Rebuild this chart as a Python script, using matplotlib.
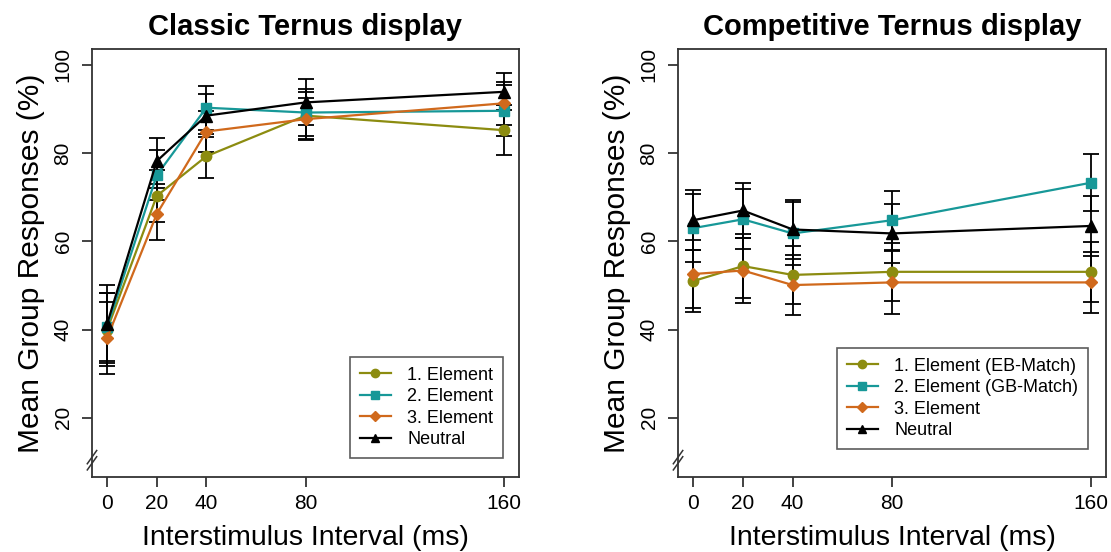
import matplotlib
matplotlib.use("Agg")
import matplotlib.pyplot as plt

plt.rcParams['font.family'] = ['Liberation Sans', 'DejaVu Sans']

isi = [0, 20, 40, 80, 160]
x_ticks = [0, 20, 40, 80, 160]
y_ticks = [20, 40, 60, 80, 100]

# Classic Ternus display
classic_el1 = [40.0, 70.3, 79.3, 88.5, 85.2]
classic_el1_err = [8.2, 5.8, 5.0, 5.3, 5.7]
classic_el2 = [40.6, 75.0, 90.3, 89.2, 89.6]
classic_el2_err = [7.8, 5.7, 5.0, 5.3, 5.8]
classic_el3 = [38.1, 66.2, 84.9, 87.7, 91.3]
classic_el3_err = [8.2, 6.0, 4.7, 4.7, 4.9]
classic_neu = [41.3, 78.2, 88.5, 91.5, 93.9]
classic_neu_err = [8.8, 5.3, 4.8, 5.2, 4.2]

# Competitive Ternus display
comp_el1 = [51.0, 54.4, 52.4, 53.1, 53.1]
comp_el1_err = [7.1, 7.3, 6.6, 6.6, 6.8]
comp_el2 = [63.0, 65.0, 61.8, 64.8, 73.3]
comp_el2_err = [7.7, 6.8, 7.1, 6.7, 6.4]
comp_el3 = [52.6, 53.4, 50.1, 50.7, 50.7]
comp_el3_err = [7.7, 7.4, 6.8, 7.1, 7.0]
comp_neu = [64.8, 67.0, 62.7, 61.8, 63.5]
comp_neu_err = [6.8, 6.3, 6.7, 6.7, 6.8]

classic_labels = ["1. Element", "2. Element", "3. Element", "Neutral"]
comp_labels = ["1. Element (EB-Match)", "2. Element (GB-Match)", "3. Element", "Neutral"]

colors = ["#8c8c10", "#179898", "#d0691c", "#000000"]
markers = ["o", "s", "D", "^"]
msizes = [7.5, 7, 6.5, 8]

fig = plt.figure(figsize=(11.11, 5.52), dpi=100)
ax1 = fig.add_axes([0.0828, 0.1359, 0.3843, 0.7753])
ax2 = fig.add_axes([0.6103, 0.1359, 0.3852, 0.7753])


def draw(ax, series, errs, labels, title, legend_anchor):
    for i, (y, e) in enumerate(zip(series, errs)):
        ax.errorbar(isi, y, yerr=e, fmt='none', ecolor='black', elinewidth=1.3,
                    capsize=5.5, capthick=1.3, zorder=2)
    handles = []
    for i, y in enumerate(series):
        h, = ax.plot(isi, y, color=colors[i], marker=markers[i], markersize=msizes[i],
                     linewidth=1.6, zorder=3 + i, label=labels[i])
        handles.append(h)
    ax.set_xlim(-6.1, 166)
    ax.set_ylim(6.6, 103.6)
    ax.set_xticks(x_ticks)
    ax.set_yticks(y_ticks)
    ax.tick_params(axis='both', direction='out', length=7, width=1.2, colors='#222222',
                   labelsize=15, labelcolor='black')
    ax.tick_params(axis='y', labelrotation=90, pad=7)
    ax.tick_params(axis='x', pad=5)
    for lab in ax.get_yticklabels():
        lab.set_va('center')
    for sp in ax.spines.values():
        sp.set_color('#333333')
        sp.set_linewidth(1.3)
    ax.set_title(title, fontsize=21, fontweight='bold', pad=10)
    ax.set_xlabel("Interstimulus Interval (ms)", fontsize=20.5, labelpad=9)
    ax.set_ylabel("Mean Group Responses (%)", fontsize=21.5, labelpad=6)
    # axis break marks
    tr = ax.get_yaxis_transform()
    for off in (0.0, 1.4):
        ax.plot([-0.011, 0.011], [8.2 + off, 11.2 + off], color='#333333', lw=1.1,
                transform=tr, clip_on=False, zorder=10)
    leg = ax.legend(handles=handles, loc='lower right', bbox_to_anchor=legend_anchor,
                    fontsize=13, frameon=True, fancybox=False, handlelength=1.7,
                    labelspacing=0.25, borderpad=0.55, handletextpad=0.9,
                    borderaxespad=0.0, markerscale=0.8)
    leg.get_frame().set_edgecolor('#333333')
    leg.get_frame().set_linewidth(1.2)


draw(ax1, [classic_el1, classic_el2, classic_el3, classic_neu],
     [classic_el1_err, classic_el2_err, classic_el3_err, classic_neu_err],
     classic_labels, "Classic Ternus display", (0.9625, 0.044))
draw(ax2, [comp_el1, comp_el2, comp_el3, comp_neu],
     [comp_el1_err, comp_el2_err, comp_el3_err, comp_neu_err],
     comp_labels, "Competitive Ternus display", (0.958, 0.065))

fig.savefig("out.png", dpi=100)
